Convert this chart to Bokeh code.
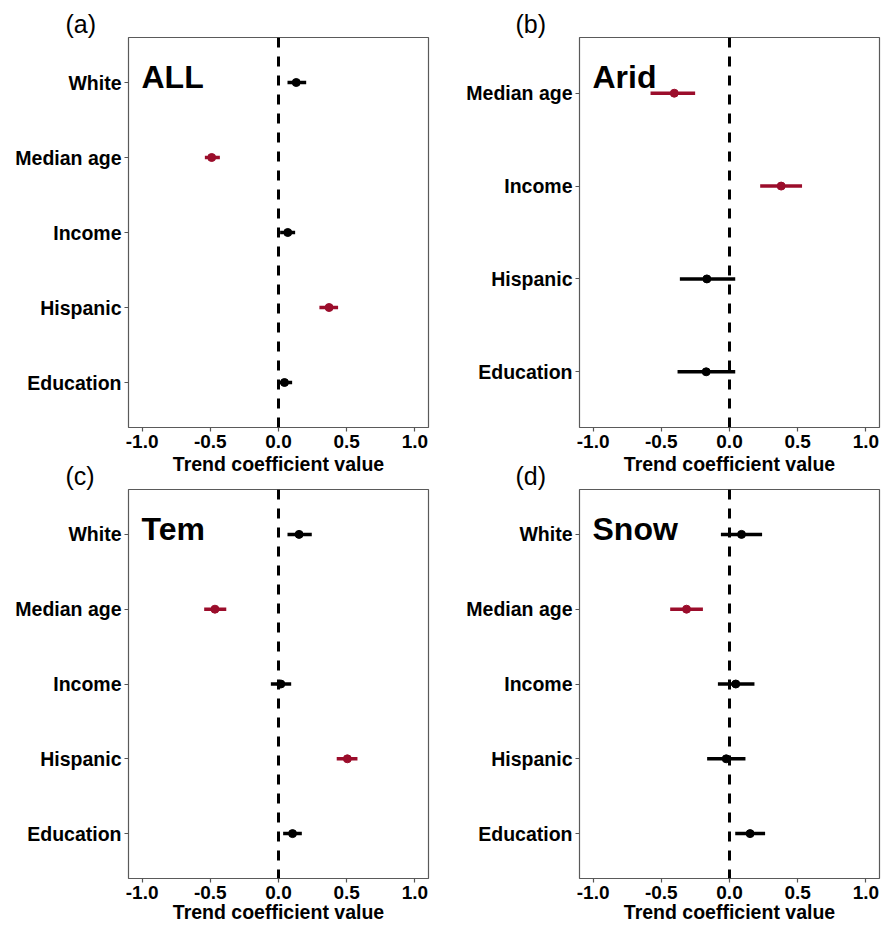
from bokeh.plotting import figure
from bokeh.models import FactorRange, Range1d, Label, Span, FixedTicker, NumeralTickFormatter
from bokeh.layouts import column, row
from bokeh.embed import file_html
from bokeh.resources import INLINE

FONT = "Liberation Sans"
RED = "#9b0d2b"
BLACK = "#000000"

x_ticks = [-1.0, -0.5, 0.0, 0.5, 1.0]
axis_title = "Trend coefficient value"

# Panel (a) ALL
all_vars = ["White", "Median age", "Income", "Hispanic", "Education"]
all_est = [0.13, -0.49, 0.068, 0.371, 0.044]
all_lo = [0.066, -0.54, 0.012, 0.30, 0.0]
all_hi = [0.203, -0.43, 0.122, 0.437, 0.10]
all_sig = [False, True, False, True, False]

# Panel (b) Arid
arid_vars = ["Median age", "Income", "Hispanic", "Education"]
arid_est = [-0.405, 0.379, -0.166, -0.171]
arid_lo = [-0.579, 0.225, -0.364, -0.381]
arid_hi = [-0.252, 0.532, 0.042, 0.042]
arid_sig = [True, True, False, False]

# Panel (c) Tem
tem_vars = ["White", "Median age", "Income", "Hispanic", "Education"]
tem_est = [0.151, -0.466, 0.017, 0.505, 0.103]
tem_lo = [0.066, -0.545, -0.056, 0.427, 0.034]
tem_hi = [0.244, -0.383, 0.093, 0.579, 0.171]
tem_sig = [False, True, False, True, False]

# Panel (d) Snow
snow_vars = ["White", "Median age", "Income", "Hispanic", "Education"]
snow_est = [0.088, -0.315, 0.046, -0.024, 0.151]
snow_lo = [-0.063, -0.435, -0.085, -0.164, 0.042]
snow_hi = [0.239, -0.195, 0.183, 0.117, 0.261]
snow_sig = [False, True, False, False, False]


def make_panel(tag, region, vars_, est, lo, hi, sig, frame_h, top, left, right, tag_off,
               label_standoff, transparent):
    p = figure(
        y_range=FactorRange(factors=list(reversed(vars_)), range_padding=0.1,
                            range_padding_units="absolute"),
        x_range=Range1d(-1.1, 1.1),
        frame_width=300, frame_height=frame_h,
        min_border_left=left, min_border_right=right, min_border_top=top,
        min_border_bottom=0,
        output_backend="svg", toolbar_location=None,
        title=tag,
    )
    p.title.align = "left"
    p.title.offset = tag_off
    p.title.standoff = 0
    p.title.text_font = FONT
    p.title.text_font_style = "normal"
    p.title.text_font_size = "25px"
    p.title.text_color = "black"

    p.background_fill_color = "white"
    p.border_fill_color = "white"
    if transparent:
        p.border_fill_alpha = 0.0
    p.outline_line_color = "#5a5a5a"
    p.outline_line_width = 1.2
    p.xgrid.grid_line_color = None
    p.ygrid.grid_line_color = None

    for ax in (p.xaxis, p.yaxis):
        ax.axis_line_color = None
        ax.major_tick_line_color = "#555555"
        ax.major_tick_line_width = 1.2
        ax.major_tick_out = 4
        ax.major_tick_in = 0
        ax.minor_tick_line_color = None
        ax.major_label_text_font = FONT
        ax.major_label_text_font_style = "bold"
        ax.major_label_text_font_size = "19px"
        ax.major_label_text_color = "black"
    p.yaxis.major_label_text_font_size = "19.5px"
    p.yaxis.major_label_standoff = 3
    p.xaxis.major_label_standoff = 3
    p.xaxis.ticker = FixedTicker(ticks=x_ticks)
    p.xaxis.formatter = NumeralTickFormatter(format="0.0")
    p.xaxis.axis_label = axis_title
    p.xaxis.axis_label_text_font = FONT
    p.xaxis.axis_label_text_font_style = "bold"
    p.xaxis.axis_label_text_font_size = "19.5px"
    p.xaxis.axis_label_text_color = "black"
    p.xaxis.axis_label_standoff = label_standoff

    colors = [RED if s else BLACK for s in sig]
    p.add_layout(Span(location=0, dimension="height", line_color="black",
                      line_width=3, line_dash="10 9"))
    p.segment(x0=lo, y0=vars_, x1=hi, y1=vars_, line_color=colors, line_width=3.5)
    p.scatter(x=est, y=vars_, size=8, fill_color=colors, line_color=colors)

    p.add_layout(Label(x=13, y=frame_h - 39, x_units="screen", y_units="screen",
                       text=region, text_font=FONT, text_font_style="bold",
                       text_font_size="32px", text_color="black",
                       text_baseline="alphabetic"))
    return p


pa = make_panel("(a)", "ALL", all_vars, all_est, all_lo, all_hi, all_sig,
                390, 37, 128, 31, -63, 2, False)
pb = make_panel("(b)", "Arid", arid_vars, arid_est, arid_lo, arid_hi, arid_sig,
                390, 37, 120, 8, -64, 2, False)
pc = make_panel("(c)", "Tem", tem_vars, tem_est, tem_lo, tem_hi, tem_sig,
                389, 30, 128, 31, -63, -1, True)
pd = make_panel("(d)", "Snow", snow_vars, snow_est, snow_lo, snow_hi, snow_sig,
                389, 30, 120, 8, -64, -1, True)

layout = column(row(pa, pb), row(pc, pd, margin=(-18, 0, 0, 0)))
open("out.html", "w").write(file_html(layout, INLINE))
